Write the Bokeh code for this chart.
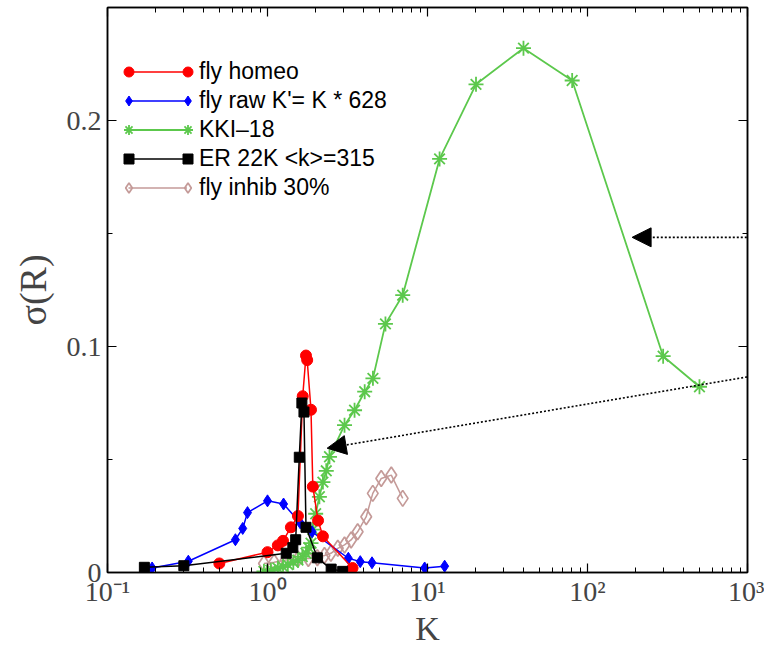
from bokeh.plotting import figure
from bokeh.models import (Range1d, LogAxis, LinearAxis, FixedTicker, Arrow, NormalHead,
                          Legend, LegendItem)
from bokeh.embed import file_html
from bokeh.resources import INLINE

# ---------------- data ----------------
homeo_k = [0.50, 1.00, 1.16, 1.25, 1.40, 1.55, 1.66, 1.74, 1.77, 1.87, 1.92, 2.07, 2.22, 3.40]
homeo_s = [0.004, 0.009, 0.012, 0.014, 0.020, 0.025, 0.078, 0.096, 0.094, 0.072, 0.038, 0.023, 0.016, 0.002]

raw_k = [0.19, 0.32, 0.63, 0.70, 0.75, 1.00, 1.26, 1.60, 1.90, 3.20, 3.80, 4.50, 9.60, 12.8]
raw_s = [0.002, 0.005, 0.0145, 0.0195, 0.0265, 0.0317, 0.0303, 0.022, 0.018, 0.0063, 0.0048, 0.0043, 0.002, 0.0028]

kki_k = [0.95, 1.05, 1.16, 1.25, 1.34, 1.45, 1.55, 1.65, 1.74, 1.81, 1.87, 1.92, 2.00, 2.11, 2.22,
         2.33, 2.44, 3.03, 3.50, 4.05, 4.56, 5.46, 7.0, 11.9, 20.1, 39.8, 80.2, 297, 501]
kki_s = [0.0005, 0.001, 0.002, 0.0025, 0.0035, 0.0045, 0.0055, 0.007, 0.0085, 0.011, 0.013, 0.019,
         0.026, 0.0335, 0.040, 0.045, 0.0512, 0.0652, 0.0718, 0.080, 0.0859, 0.110, 0.1227, 0.183,
         0.216, 0.232, 0.2177, 0.0957, 0.0822]

er_k = [0.17, 0.30, 1.31, 1.44, 1.50, 1.58, 1.64, 1.69, 1.74, 2.05, 2.50, 2.95]
er_s = [0.0023, 0.003, 0.0085, 0.011, 0.0145, 0.051, 0.075, 0.071, 0.020, 0.0065, 0.0015, 0.0005]

inhib_k = [0.95, 1.10, 1.30, 1.55, 1.80, 2.05, 2.27, 2.49, 2.75, 3.03, 3.33, 3.66, 4.14, 4.55, 5.14, 5.94, 7.0]
inhib_s = [0.004, 0.0045, 0.0055, 0.006, 0.0062, 0.0065, 0.0075, 0.0085, 0.0107, 0.0122, 0.0144,
           0.018, 0.0247, 0.035, 0.0416, 0.0431, 0.0328]

labels = ["fly homeo", "fly raw K'= K * 628", "KKI\u201318", "ER 22K <k>=315", "fly inhib 30%"]

x_major = [0.1, 1, 10, 100, 1000]
x_major_labels = ["10\u207b\u00b9", "10\u2070", "10\u00b9", "10\u00b2", "10\u00b3"]
y_major = [0, 0.1, 0.2]
y_major_labels = ["0", "0.1", "0.2"]
y_minor = [0.05, 0.15]

# annotation arrows (start / end in data units)
arrow1_x = [1320, 190]
arrow1_y = [0.1483, 0.1483]
arrow2_x = [1320, 2.36]
arrow2_y = [0.0880, 0.0550]

# ---------------- figure ----------------
SERIF = "Liberation Serif"
SANS = "Liberation Sans"

p = figure(width=764, height=650, x_axis_type="log",
           x_range=Range1d(0.1, 1000), y_range=Range1d(0, 0.25),
           output_backend="svg", toolbar_location=None,
           min_border_left=107, min_border_right=17, min_border_top=7, min_border_bottom=78)
p.xgrid.visible = False
p.ygrid.visible = False
p.outline_line_color = "black"
p.outline_line_width = 1.5
p.background_fill_color = "white"
p.border_fill_color = "white"

x_minor = [m * 10 ** e for e in range(-1, 3) for m in range(2, 10)]
xt = FixedTicker(ticks=x_major, minor_ticks=x_minor)
yt = FixedTicker(ticks=y_major, minor_ticks=y_minor)

x_over = {0.1: x_major_labels[0], 1: x_major_labels[1], 10: x_major_labels[2],
          100: x_major_labels[3], 1000: x_major_labels[4]}
y_over = {0: y_major_labels[0], 0.1: y_major_labels[1], 0.2: y_major_labels[2]}


def style_axis(ax):
    ax.axis_line_color = "black"
    ax.axis_line_width = 1.5
    ax.major_tick_line_color = "black"
    ax.minor_tick_line_color = "black"
    ax.major_tick_line_width = 1.2
    ax.minor_tick_line_width = 1.0
    ax.major_tick_in = 9
    ax.major_tick_out = 0
    ax.minor_tick_in = 5
    ax.minor_tick_out = 0


xa = p.xaxis[0]
xa.ticker = xt
xa.major_label_overrides = x_over
xa.axis_label = "K"
xa.axis_label_text_font = SERIF
xa.axis_label_text_font_style = "normal"
xa.axis_label_text_font_size = "34px"
xa.axis_label_standoff = 0
xa.major_label_text_font = SERIF
xa.major_label_text_font_size = "28px"
xa.major_label_standoff = 3
style_axis(xa)

ya = p.yaxis[0]
ya.ticker = yt
ya.major_label_overrides = y_over
ya.axis_label = "\u03c3(R)"
ya.axis_label_text_font = SERIF
ya.axis_label_text_font_style = "normal"
ya.axis_label_text_font_size = "38px"
ya.axis_label_standoff = 10
ya.major_label_text_font = SERIF
ya.major_label_text_font_size = "28px"
ya.major_label_standoff = 6
ya.major_label_orientation = "horizontal"
style_axis(ya)

top = LogAxis(ticker=FixedTicker(ticks=x_major, minor_ticks=x_minor))
top.major_label_overrides = {0.1: "", 1: "", 10: "", 100: "", 1000: ""}
top.major_label_text_font_size = "2px"
top.major_label_standoff = 0
style_axis(top)
p.add_layout(top, "above")
right = LinearAxis(ticker=FixedTicker(ticks=y_major, minor_ticks=y_minor))
right.major_label_overrides = {0: "", 0.1: "", 0.2: ""}
right.major_label_text_font_size = "2px"
right.major_label_standoff = 0
style_axis(right)
p.add_layout(right, "right")

# ---------------- series ----------------
RED, BLUE, GREEN, BROWN = "#ff0000", "#0000ff", "#5cc84c", "#c49a98"

l_inhib = p.line(inhib_k, inhib_s, color=BROWN, line_width=1.5)
m_inhib = p.scatter(inhib_k, inhib_s, marker="diamond", size=16, line_color=BROWN,
                    fill_color=None, line_width=1.7)

l_kki = p.line(kki_k, kki_s, color=GREEN, line_width=1.8)
m_kki = p.scatter(kki_k, kki_s, marker="asterisk", size=15, line_color=GREEN, line_width=1.8)

l_raw = p.line(raw_k, raw_s, color=BLUE, line_width=1.5)
m_raw = p.scatter(raw_k, raw_s, marker="diamond", size=12, color=BLUE)

l_homeo = p.line(homeo_k, homeo_s, color=RED, line_width=1.5)
m_homeo = p.scatter(homeo_k, homeo_s, marker="circle", size=11, color=RED)

l_er = p.line(er_k, er_s, color="black", line_width=1.5)
m_er = p.scatter(er_k, er_s, marker="square", size=10, color="black")

# ---------------- arrows ----------------
for ax_, ay_ in ((arrow1_x, arrow1_y), (arrow2_x, arrow2_y)):
    p.add_layout(Arrow(end=NormalHead(size=19, fill_color="black", line_color="black"),
                       x_start=ax_[0], y_start=ay_[0], x_end=ax_[1], y_end=ay_[1],
                       line_color="black", line_width=1.6, line_dash="2 2"))

# ---------------- legend (line with markers at both ends) ----------------
lines = [l_homeo, l_raw, l_kki, l_er, l_inhib]
marks = [m_homeo, m_raw, m_kki, m_er, m_inhib]
ROW = 29
vy = 370


def mk_legend(items, vx, gw, standoff):
    lg = Legend(items=items, location=(vx, vy), orientation="vertical",
                glyph_width=gw, glyph_height=ROW, label_height=ROW, spacing=0,
                padding=0, margin=0, label_standoff=standoff,
                label_text_font=SANS, label_text_font_size="23px", label_text_color="black",
                border_line_color=None, background_fill_alpha=0)
    return lg


main_leg = mk_legend([LegendItem(label=t, renderers=[r]) for t, r in zip(labels, lines)], 21, 59, 12)
left_leg = mk_legend([LegendItem(label=" ", renderers=[r]) for r in marks], 8.5, 25, 0)
right_leg = mk_legend([LegendItem(label=" ", renderers=[r]) for r in marks], 67.5, 25, 0)
p.add_layout(main_leg, "center")
p.add_layout(left_leg, "center")
p.add_layout(right_leg, "center")

open("out.html", "w").write(file_html(p, INLINE))
